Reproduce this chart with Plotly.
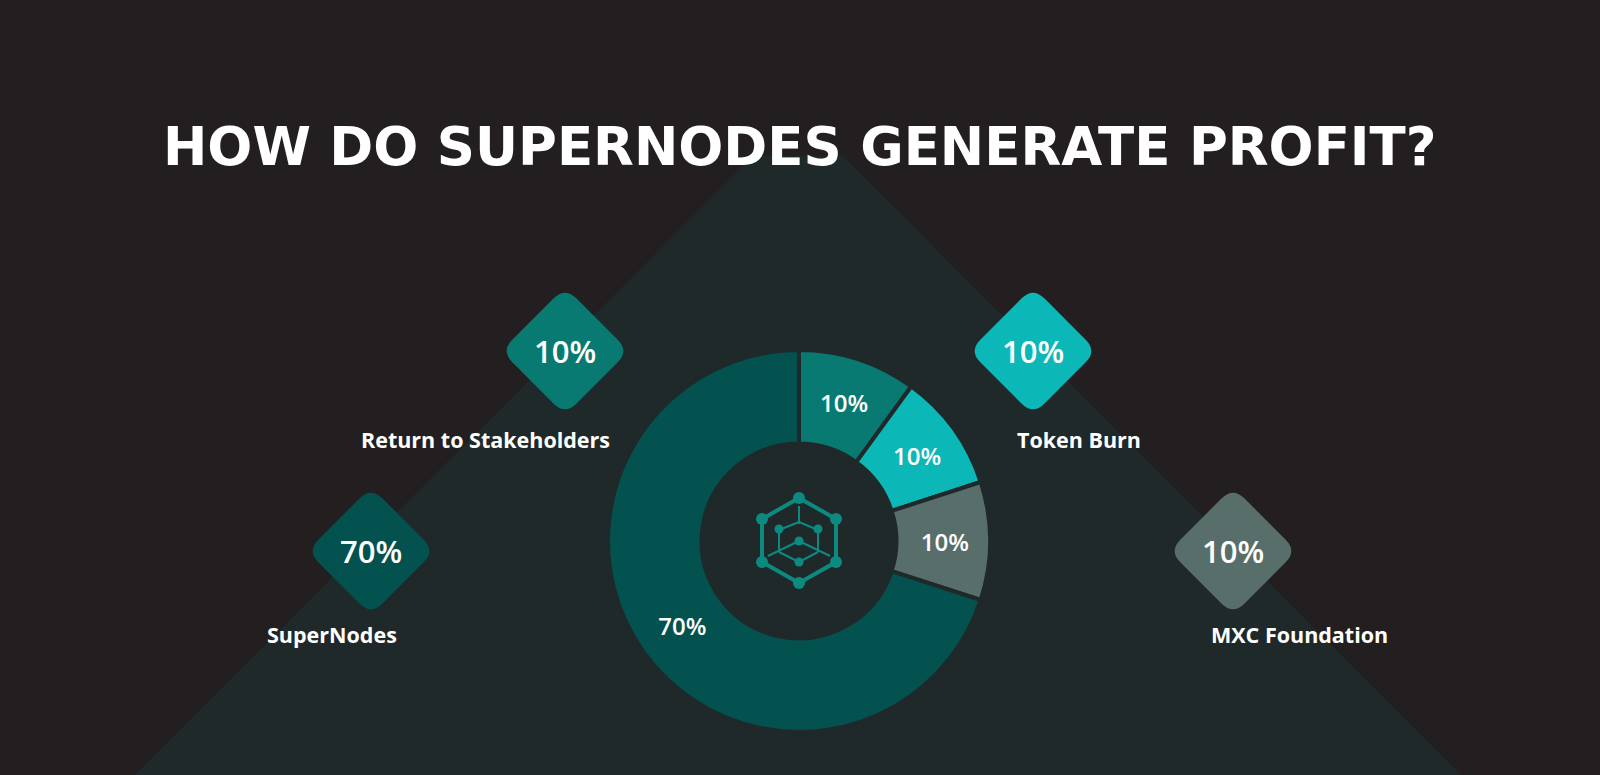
import plotly.graph_objects as go

# ---- data ----
categories = ["Return to Stakeholders", "Token Burn", "MXC Foundation", "SuperNodes"]
values = [10, 10, 10, 70]
slice_colors = ["#087a72", "#0bb8b7", "#586e6a", "#03524f"]
title_text = "HOW DO SUPERNODES GENERATE PROFIT?"

# ---- layout constants ----
W, H = 1600, 775
BG = "#231f20"
TRI = "#1f292a"
FONT = "Open Sans"
TITLE_FONT = "DejaVu Sans"
cx, cy, R = 799, 541, 191

# diamond / label placement per category (pixel coords)
diamond_pos = {
    "Return to Stakeholders": (565, 351),
    "Token Burn": (1033, 351),
    "MXC Foundation": (1233, 551),
    "SuperNodes": (371, 551),
}
label_pos = {
    "Return to Stakeholders": (485, 439),
    "Token Burn": (1079, 439),
    "MXC Foundation": (1299, 634),
    "SuperNodes": (332, 634),
}

fig = go.Figure()

fig.add_trace(go.Pie(
    labels=categories,
    values=values,
    sort=False,
    direction="clockwise",
    rotation=0,
    hole=0.51,
    marker=dict(colors=slice_colors, line=dict(color=TRI, width=4)),
    texttemplate="%{value}%",
    textposition="inside",
    insidetextorientation="horizontal",
    textfont=dict(family=FONT, size=24, color="white", weight=600),
    domain=dict(x=[(cx - R) / W, (cx + R) / W], y=[1 - (cy + R) / H, 1 - (cy - R) / H]),
    showlegend=False,
    hoverinfo="label+percent",
))

shapes = []
# background truncated triangle
shapes.append(dict(type="path", xref="x", yref="y", layer="below",
                   path="M 130,780 L 753,156 L 843,156 L 1466,780 Z",
                   fillcolor=TRI, line=dict(width=0)))


def diamond_path(x, y, D=64, c=16):
    V = [(x, y - D), (x + D, y), (x, y + D), (x - D, y)]
    n = len(V)

    def toward(ax, ay, bx, by):
        dx, dy = bx - ax, by - ay
        L = (dx * dx + dy * dy) ** 0.5
        return ax + dx / L * c, ay + dy / L * c

    pts = []
    for i in range(n):
        vx, vy = V[i]
        px, py = V[i - 1]
        nx, ny = V[(i + 1) % n]
        pts.append((toward(vx, vy, px, py), (vx, vy), toward(vx, vy, nx, ny)))
    s = f"M {pts[0][0][0]:.2f},{pts[0][0][1]:.2f} "
    for i, (a, v, b) in enumerate(pts):
        if i > 0:
            s += f"L {a[0]:.2f},{a[1]:.2f} "
        s += f"Q {v[0]:.2f},{v[1]:.2f} {b[0]:.2f},{b[1]:.2f} "
    return s + "Z"


annotations = []
for cat, val, col in zip(categories, values, slice_colors):
    dx, dy = diamond_pos[cat]
    shapes.append(dict(type="path", xref="x", yref="y", path=diamond_path(dx, dy),
                       fillcolor=col, line=dict(width=0)))
    annotations.append(dict(x=dx, y=dy, xref="x", yref="y", text=f"{val}%", showarrow=False,
                            font=dict(family=FONT, size=31, color="white", weight=600),
                            xanchor="center", yanchor="middle"))
    lx, ly = label_pos[cat]
    annotations.append(dict(x=lx, y=ly, xref="x", yref="y", text=f"<b>{cat}</b>", showarrow=False,
                            font=dict(family=FONT, size=21.5, color="white"),
                            xanchor="center", yanchor="middle"))

# title
annotations.append(dict(x=799, y=146, xref="x", yref="y", text=f"<b>{title_text}</b>", showarrow=False,
                        font=dict(family=TITLE_FONT, size=53, color="white"),
                        xanchor="center", yanchor="middle"))

# center icon (hexagonal network)
IC = "#0d8a80"
hexv = [(799, 498), (836, 519), (836, 562), (799, 583), (762, 562), (762, 519)]
hp = "M " + " L ".join(f"{x},{y}" for x, y in hexv) + " Z"
shapes.append(dict(type="path", xref="x", yref="y", path=hp, line=dict(color=IC, width=4)))
inner_lines = [
    ((799, 506), (799, 524)),
    ((799, 522), (779, 530)),
    ((799, 522), (818, 530)),
    ((779, 529), (779, 552)),
    ((818, 529), (818, 552)),
    ((768, 556), (799, 541)),
    ((830, 556), (799, 541)),
    ((779, 552), (799, 562)),
    ((818, 552), (799, 562)),
]
for (x0, y0), (x1, y1) in inner_lines:
    shapes.append(dict(type="line", xref="x", yref="y", x0=x0, y0=y0, x1=x1, y1=y1,
                       line=dict(color=IC, width=2)))
for (x, y) in hexv:
    shapes.append(dict(type="circle", xref="x", yref="y", x0=x - 6, x1=x + 6, y0=y - 6, y1=y + 6,
                       fillcolor=IC, line=dict(width=0)))
for (x, y) in [(779, 529), (818, 529), (799, 541), (799, 562)]:
    shapes.append(dict(type="circle", xref="x", yref="y", x0=x - 4.5, x1=x + 4.5, y0=y - 4.5, y1=y + 4.5,
                       fillcolor=IC, line=dict(width=0)))

fig.update_layout(
    width=W, height=H,
    margin=dict(l=0, r=0, t=0, b=0),
    paper_bgcolor=BG, plot_bgcolor=BG,
    xaxis=dict(range=[0, W], visible=False, fixedrange=True),
    yaxis=dict(range=[H, 0], visible=False, fixedrange=True),
    shapes=shapes,
    annotations=annotations,
    showlegend=False,
)

fig.write_html("out.html", config={"displayModeBar": False},
               post_script="document.body.style.margin='0';document.body.style.background='#231f20';")
